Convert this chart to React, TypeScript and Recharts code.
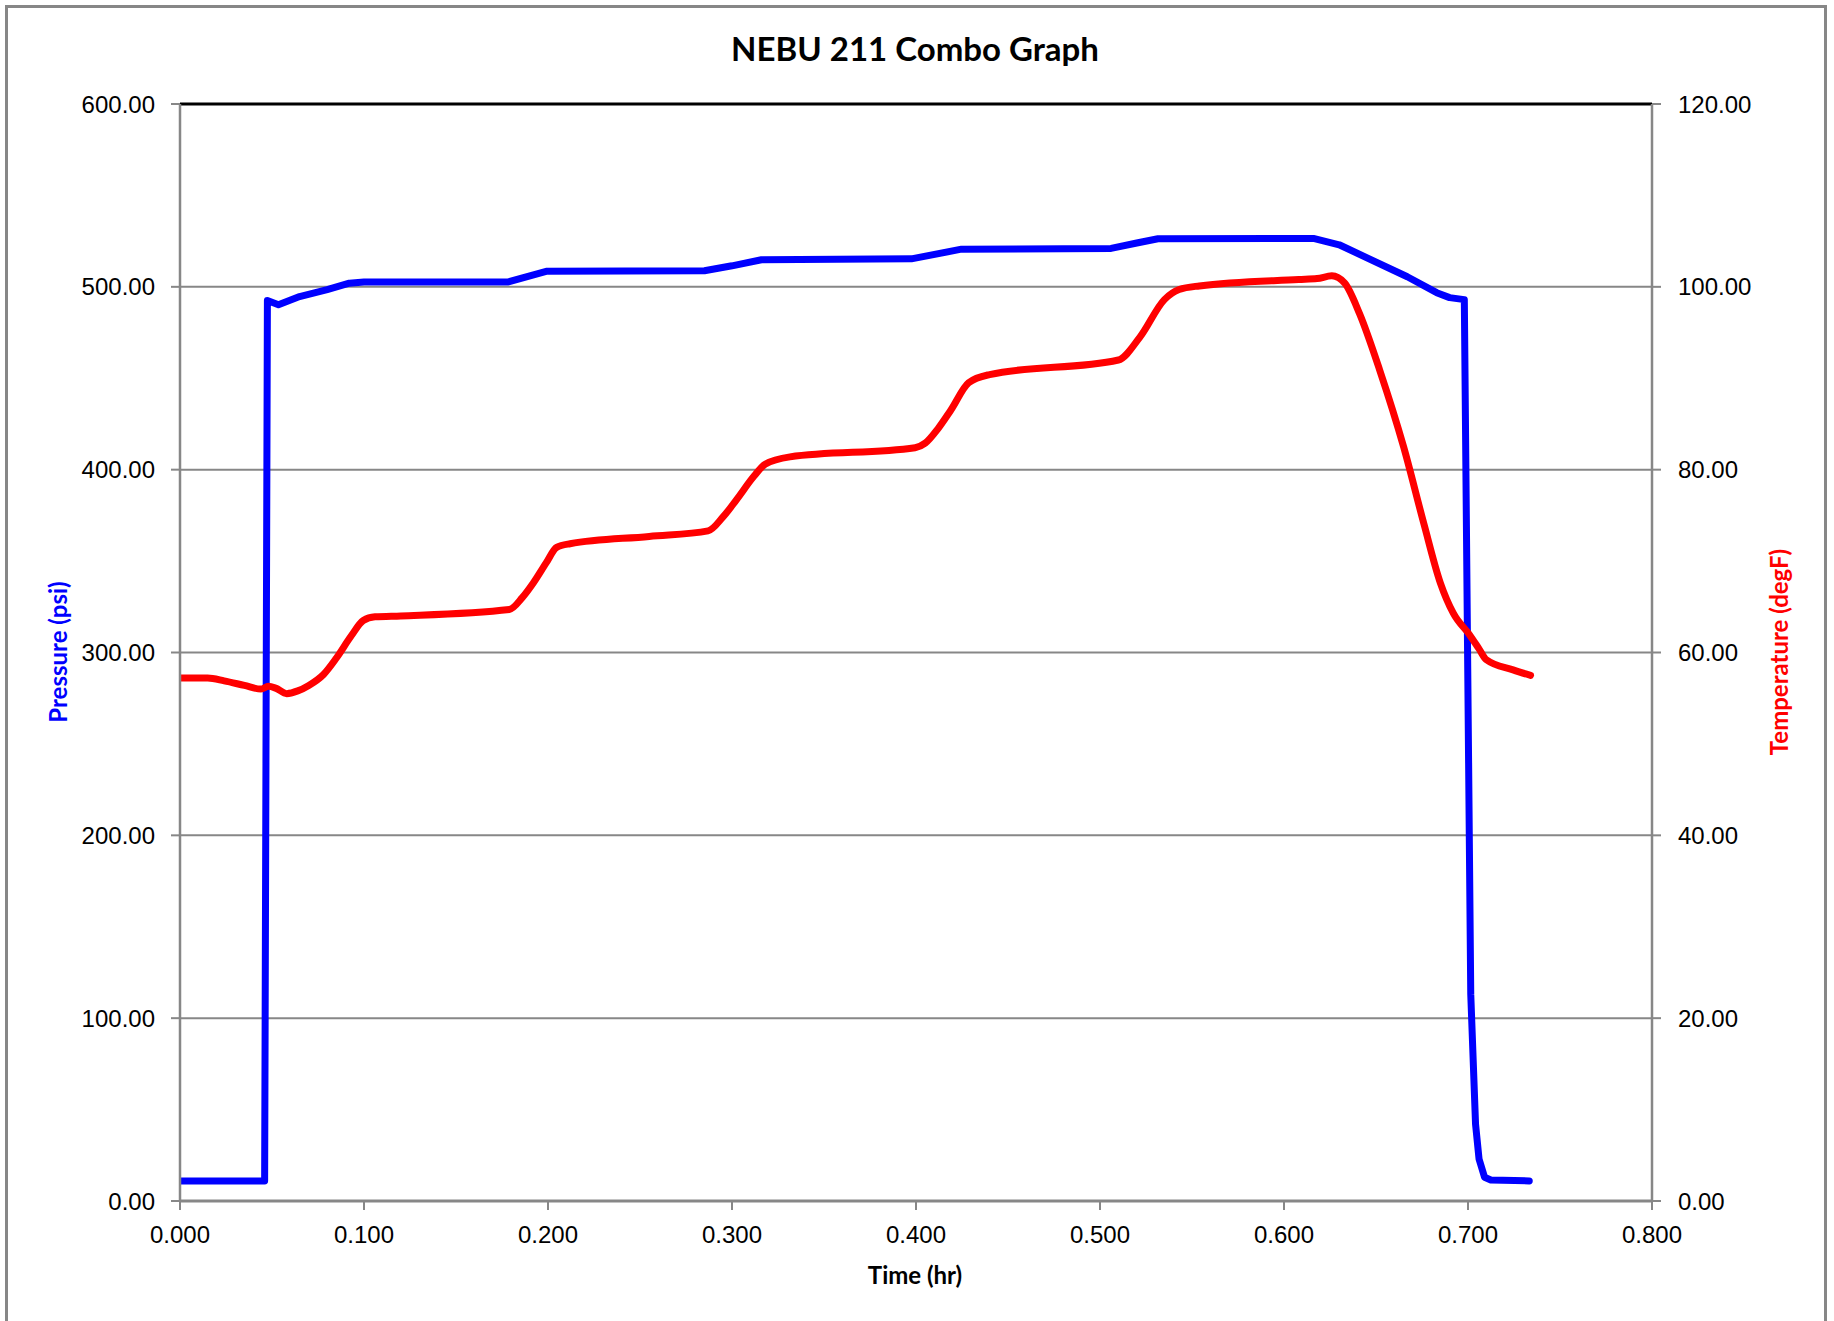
import React from "react";
import {
  LineChart,
  Line,
  XAxis,
  YAxis,
  CartesianGrid,
  ReferenceLine,
} from "recharts";

// Pressure trace (hr, psi)
const pressureTime = [
  0.0, 0.046, 0.0475, 0.0535, 0.065, 0.08, 0.092, 0.1, 0.178, 0.199, 0.285,
  0.3, 0.316, 0.3975, 0.4247, 0.506, 0.52, 0.5315, 0.616, 0.63, 0.667, 0.683,
  0.69, 0.698, 0.7015, 0.7041, 0.706, 0.709, 0.7124, 0.7333,
];
const pressureValue = [
  11, 11, 492.5, 490.2, 494.7, 498.5, 502, 502.6, 502.6, 508.5, 508.8, 511.5,
  514.8, 515.3, 520.6, 521, 524, 526.3, 526.5, 523, 505.5, 496.8, 494.1, 493,
  113, 42, 23, 13, 11.5, 11,
];

// Temperature trace (hr, degF)
const tempTime = [
  0.0, 0.015, 0.024, 0.035, 0.044, 0.048, 0.052, 0.058, 0.064, 0.07, 0.078,
  0.085, 0.093, 0.0996, 0.106, 0.12, 0.179, 0.186, 0.192, 0.199, 0.2047, 0.212,
  0.255, 0.287, 0.295, 0.3024, 0.312, 0.318, 0.3315, 0.3995, 0.405, 0.412,
  0.4189, 0.4286, 0.44, 0.51, 0.5217, 0.535, 0.543, 0.554, 0.608, 0.618, 0.626,
  0.633, 0.641, 0.652, 0.665, 0.676, 0.685, 0.692, 0.701, 0.706, 0.71, 0.7245,
  0.734,
];
const tempValue = [
  57.2, 57.2, 56.9, 56.4, 56.0, 56.3, 56.1, 55.5, 55.8, 56.4, 57.6, 59.4, 61.8,
  63.5, 63.9, 64.0, 64.7, 66.0, 67.6, 69.8, 71.5, 71.9, 72.7, 73.3, 74.8, 76.7,
  79.3, 80.6, 81.4, 82.4, 82.9, 84.5, 86.5, 89.5, 90.4, 92.0, 94.5, 98.6, 99.7,
  100.1, 100.8, 100.9, 101.2, 100.4, 97.1, 90.9, 82.5, 74.1, 67.6, 64.3, 61.9,
  60.4, 59.2, 58.1, 57.5,
];

const timeTicks = [0, 0.1, 0.2, 0.3, 0.4, 0.5, 0.6, 0.7, 0.8];
const pressureTicks = [0, 100, 200, 300, 400, 500, 600];
const tempTicks = [0, 20, 40, 60, 80, 100, 120];

const pressureData = pressureTime.map((t, i) => ({ t, p: pressureValue[i] }));
const tempData = tempTime.map((t, i) => ({ t, temp: tempValue[i] }));

const GREY = "#878787";
const tickFont = { fill: "#000", fontSize: 24, fontFamily: "Liberation Sans, Arial, sans-serif" };
const labelFont = "Lato, 'Liberation Sans', sans-serif";

export default function App() {
  return (
    <div style={{ position: "absolute", left: 0, top: 0, width: 1834, height: 1321, background: "#fff" }}>
      {/* outer frame, bottom edge runs off the page */}
      <div
        style={{
          position: "absolute",
          left: 5,
          top: 5,
          width: 1822,
          height: 1316,
          boxSizing: "border-box",
          border: `3px solid ${GREY}`,
          borderBottom: "none",
        }}
      />

      <div
        style={{
          position: "absolute",
          left: 0,
          width: 1834,
          top: 28,
          textAlign: "center",
          paddingLeft: 0,
          fontFamily: labelFont,
          fontWeight: 700,
          fontSize: 33,
          lineHeight: "40px",
          color: "#000",
        }}
      >
        <span style={{ position: "relative", left: -2 }}>NEBU 211 Combo Graph</span>
      </div>

      <div style={{ position: "absolute", left: 0, top: 0 }}>
        <LineChart
          width={1834}
          height={1321}
          margin={{ top: 104, right: 102, bottom: 60, left: 100 }}
        >
          <CartesianGrid
            yAxisId="left"
            vertical={false}
            stroke={GREY}
            strokeWidth={2}
            strokeOpacity={1}
          />
          <XAxis
            dataKey="t"
            type="number"
            domain={[0, 0.8]}
            ticks={timeTicks}
            tickFormatter={(v: number) => v.toFixed(3)}
            height={60}
            tickSize={9}
            tickMargin={16}
            tick={tickFont}
            axisLine={{ stroke: GREY, strokeWidth: 3 }}
            tickLine={{ stroke: GREY, strokeWidth: 2 }}
            allowDataOverflow
          />
          <YAxis
            yAxisId="left"
            domain={[0, 600]}
            ticks={pressureTicks}
            tickFormatter={(v: number) => v.toFixed(2)}
            width={80}
            tickSize={9}
            tickMargin={16}
            tick={tickFont}
            axisLine={{ stroke: GREY, strokeWidth: 2.5 }}
            tickLine={{ stroke: GREY, strokeWidth: 2 }}
            interval={0}
          />
          <YAxis
            yAxisId="right"
            orientation="right"
            domain={[0, 120]}
            ticks={tempTicks}
            tickFormatter={(v: number) => v.toFixed(2)}
            width={80}
            tickSize={9}
            tickMargin={17}
            tick={tickFont}
            axisLine={{ stroke: GREY, strokeWidth: 2.5 }}
            tickLine={{ stroke: GREY, strokeWidth: 2 }}
            interval={0}
          />
          <ReferenceLine yAxisId="left" y={600} stroke="#000" strokeWidth={3} />
          <Line
            yAxisId="left"
            data={pressureData}
            dataKey="p"
            type="linear"
            stroke="#0000FF"
            strokeWidth={7}
            strokeLinejoin="round"
            strokeLinecap="round"
            dot={false}
            activeDot={false}
            isAnimationActive={false}
          />
          <Line
            yAxisId="right"
            data={tempData}
            dataKey="temp"
            type="monotone"
            stroke="#FF0000"
            strokeWidth={7}
            strokeLinejoin="round"
            strokeLinecap="round"
            dot={false}
            activeDot={false}
            isAnimationActive={false}
          />
        </LineChart>
      </div>

      <div
        style={{
          position: "absolute",
          left: 57,
          top: 652,
          transform: "translate(-50%, -50%) rotate(-90deg)",
          whiteSpace: "nowrap",
          fontFamily: labelFont,
          fontWeight: 700,
          fontSize: 24,
          color: "#0000FF",
        }}
      >
        Pressure (psi)
      </div>
      <div
        style={{
          position: "absolute",
          left: 1778,
          top: 652,
          transform: "translate(-50%, -50%) rotate(-90deg)",
          whiteSpace: "nowrap",
          fontFamily: labelFont,
          fontWeight: 700,
          fontSize: 24,
          color: "#FF0000",
        }}
      >
        Temperature (degF)
      </div>
      <div
        style={{
          position: "absolute",
          left: 915,
          top: 1274,
          transform: "translate(-50%, -50%)",
          whiteSpace: "nowrap",
          fontFamily: labelFont,
          fontWeight: 700,
          fontSize: 24,
          color: "#000",
        }}
      >
        Time (hr)
      </div>
    </div>
  );
}
